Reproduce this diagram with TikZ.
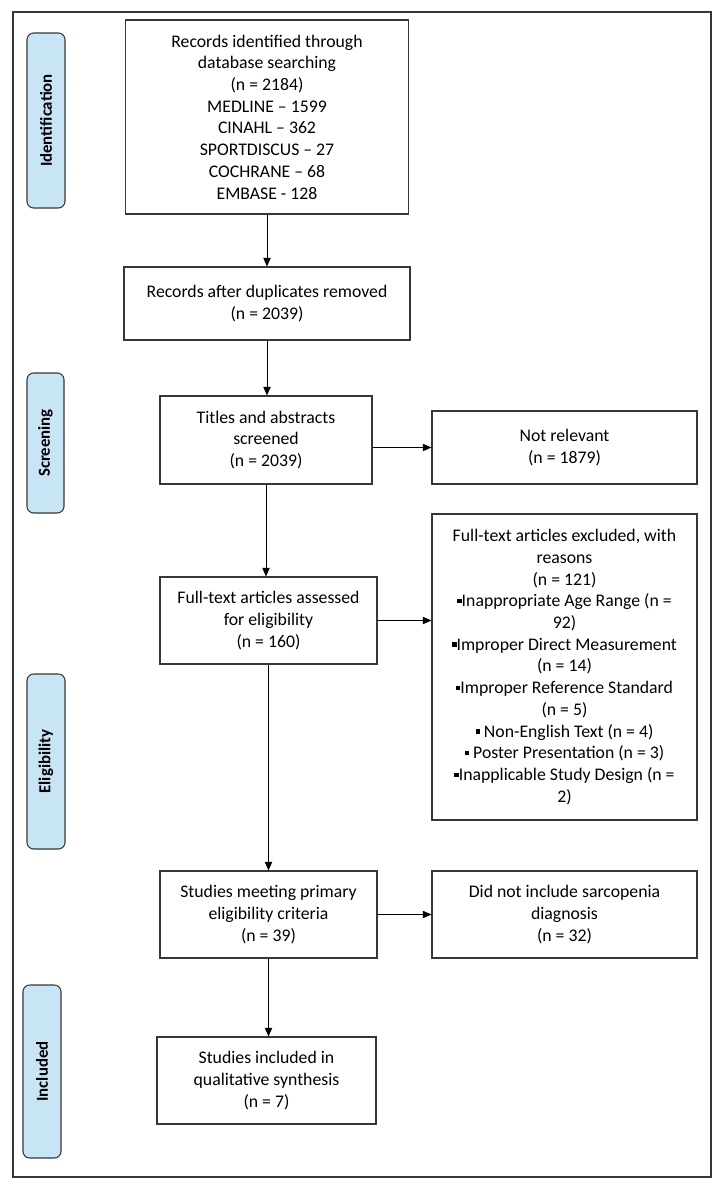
\documentclass[tikz,border=0pt]{standalone}
\usepackage{fontspec}
\setmainfont{Carlito}
\usetikzlibrary{arrows.meta}

\definecolor{phaseblue}{RGB}{200,229,246}
\definecolor{linegray}{RGB}{55,55,55}
\newcommand{\sqb}{\raisebox{0.2em}{\rule{0.25em}{0.25em}}}

\tikzset{
  box/.style={draw=linegray, line width=0.8pt, align=center, inner sep=1pt,
    font=\fontsize{13.3}{16.3}\selectfont},
  phase/.style={draw=linegray, line width=0.8pt, rounded corners=5pt, fill=phaseblue,
    rotate=90, inner sep=0pt, font=\fontsize{12.6}{15}\selectfont\bfseries},
  flow/.style={draw=black, line width=0.75pt, -{Triangle[length=6.5pt,width=5.5pt]}}
}

\begin{document}
\begin{tikzpicture}[x=0.75pt,y=0.75pt,yscale=-1,xscale=1]
        \useasboundingbox (0,0) rectangle (724,1190);

        %Shape: Rectangle (outer frame)
        \draw [draw=linegray, line width=0.8pt] (13,12) rectangle (711,1177);

        %Shape: Rounded Rectangle (phases)
        \node (ident) [phase, minimum width=131.25pt, minimum height=28.5pt] at (46,120.5) {Identification};
        \node (screen) [phase, minimum width=105pt, minimum height=27.75pt] at (45.5,443) {Screening};
        \node (elig) [phase, minimum width=131.25pt, minimum height=28.5pt] at (46,761.5) {Eligibility};
        \node (incl) [phase, minimum width=129.75pt, minimum height=28.5pt] at (42,1071.5) {Included};

        %Shape: Rectangle (main column)
        \node (recid) [box, minimum width=212.25pt, minimum height=145.5pt] at (267,117)
          {Records identified through\\database searching\\(n = 2184)\\MEDLINE -- 1599\\CINAHL -- 362\\SPORTDISCUS -- 27\\COCHRANE -- 68\\EMBASE - 128};
        \node (dup) [box, minimum width=214.5pt, minimum height=54.75pt] at (267,303.5)
          {Records after duplicates removed\\(n = 2039)};
        \node (title) [box, minimum width=159pt, minimum height=66pt] at (266,440)
          {Titles and abstracts\\screened\\(n = 2039)};
        \node (full) [box, minimum width=162.75pt, minimum height=65.25pt] at (268.5,620.5)
          {Full-text articles assessed\\for eligibility\\(n = 160)};
        \node (meet) [box, minimum width=162.75pt, minimum height=65.25pt] at (268.5,914.5)
          {Studies meeting primary\\eligibility criteria\\(n = 39)};
        \node (synth) [box, minimum width=164.25pt, minimum height=65.25pt] at (266.5,1080.5)
          {Studies included in\\qualitative synthesis\\(n = 7)};

        %Shape: Rectangle (right column)
        \node (notrel) [box, minimum width=198.75pt, minimum height=54.75pt] at (564.5,447.5)
          {Not relevant\\(n = 1879)};
        \node (excl) [box, minimum width=198.75pt, minimum height=229.5pt] at (564.5,667)
          {Full-text articles excluded, with\\reasons\\(n = 121)\\\sqb Inappropriate Age Range (n =\\92)\\\sqb Improper Direct Measurement\\(n = 14)\\\sqb Improper Reference Standard\\(n = 5)\\\sqb\ Non-English Text (n = 4)\\\sqb\ Poster Presentation (n = 3)\\\sqb Inapplicable Study Design (n =\\2)};
        \node (nosarc) [box, minimum width=198.75pt, minimum height=65.25pt] at (564.5,914.5)
          {Did not include sarcopenia\\diagnosis\\(n = 32)};

        %Straight Lines (arrows)
        \draw [flow] (recid.south) -- (recid.south |- dup.north);
        \draw [flow] (dup.south) -- (dup.south |- title.north);
        \draw [flow] (title.south) -- (title.south |- full.north);
        \draw [flow] (full.south) -- (full.south |- meet.north);
        \draw [flow] (meet.south) -- (meet.south |- synth.north);
        \draw [flow] (title.east |- notrel.west) -- (notrel.west);
        \draw [flow] (full.east) -- (full.east -| excl.west);
        \draw [flow] (meet.east) -- (nosarc.west);

\end{tikzpicture}
\end{document}
